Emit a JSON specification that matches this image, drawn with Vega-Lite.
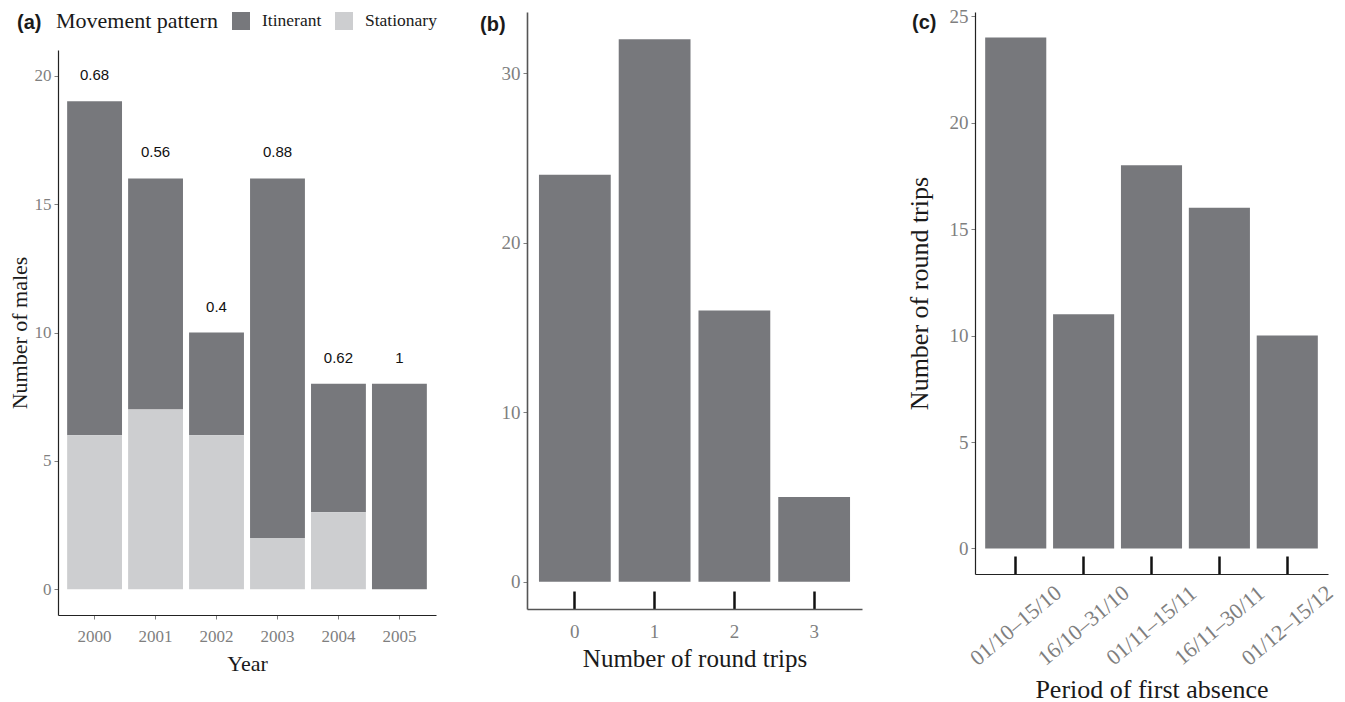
{
  "$schema": "https://vega.github.io/schema/vega-lite/v6.json",
  "background": "white",
  "padding": {"left": 8, "top": 7, "right": 0, "bottom": 0},
  "columns": 3,
  "align": "none",
  "spacing": 44,
  "config": {
    "view": {"stroke": null},
    "axis": {"grid": false, "domainColor": "#222", "domainWidth": 1.2, "labelFont": "Liberation Serif", "labelColor": "#7f7f7f", "titleFont": "Liberation Serif", "titleColor": "#1a1a1a", "titleFontWeight": "normal", "tickColor": "#7f7f7f", "tickSize": 4, "labelPadding": 3},
    "title": {"font": "Liberation Sans", "fontWeight": "bold", "fontSize": 20, "color": "#1a1a1a"}
  },
  "datasets": {
    "males": [
      {"year": "2000", "pattern": "Itinerant", "count": 13},
      {"year": "2000", "pattern": "Stationary", "count": 6},
      {"year": "2001", "pattern": "Itinerant", "count": 9},
      {"year": "2001", "pattern": "Stationary", "count": 7},
      {"year": "2002", "pattern": "Itinerant", "count": 4},
      {"year": "2002", "pattern": "Stationary", "count": 6},
      {"year": "2003", "pattern": "Itinerant", "count": 14},
      {"year": "2003", "pattern": "Stationary", "count": 2},
      {"year": "2004", "pattern": "Itinerant", "count": 5},
      {"year": "2004", "pattern": "Stationary", "count": 3},
      {"year": "2005", "pattern": "Itinerant", "count": 8},
      {"year": "2005", "pattern": "Stationary", "count": 0}
    ],
    "labels": [
      {"year": "2000", "total": 19, "prop": "0.68"},
      {"year": "2001", "total": 16, "prop": "0.56"},
      {"year": "2002", "total": 10, "prop": "0.4"},
      {"year": "2003", "total": 16, "prop": "0.88"},
      {"year": "2004", "total": 8, "prop": "0.62"},
      {"year": "2005", "total": 8, "prop": "1"}
    ],
    "trips": [
      {"n": "0", "count": 24},
      {"n": "1", "count": 32},
      {"n": "2", "count": 16},
      {"n": "3", "count": 5}
    ],
    "periods": [
      {"period": "01/10–15/10", "count": 24},
      {"period": "16/10–31/10", "count": 11},
      {"period": "01/11–15/11", "count": 18},
      {"period": "16/11–30/11", "count": 16},
      {"period": "01/12–15/12", "count": 10}
    ]
  },
  "concat": [
    {
      "width": 378,
      "height": 603,
      "title": {"text": "(a)", "anchor": "start", "frame": "bounds", "orient": "top", "baseline": "middle", "offset": 0, "dx": 9, "dy": 31},
      "layer": [
        {
          "data": {"name": "males"},
          "mark": {"type": "bar"},
          "encoding": {
            "x": {"field": "year", "type": "ordinal", "scale": {"paddingInner": 0.1, "paddingOuter": 0.15}, "axis": {"title": "Year", "labelAngle": 0, "labelFontSize": 17, "titleFontSize": 22, "labelPadding": 9, "titlePadding": 9}},
            "y": {"field": "count", "type": "quantitative", "stack": "zero", "scale": {"domain": [-1, 21], "range": [603, 38], "nice": false, "zero": false}, "axis": {"title": "Number of males", "values": [0, 5, 10, 15, 20], "labelFontSize": 17, "titleFontSize": 22, "titlePadding": 3}},
            "color": {
              "field": "pattern", "type": "nominal",
              "scale": {"domain": ["Itinerant", "Stationary"], "range": ["#77787c", "#cdced0"]},
              "legend": {"orient": "none", "legendX": -2, "legendY": 0, "direction": "horizontal", "title": "Movement pattern", "titleOrient": "left", "titleFont": "Liberation Serif", "titleFontSize": 22, "titleFontWeight": "normal", "titleColor": "#1a1a1a", "titlePadding": 14, "labelFont": "Liberation Serif", "labelFontSize": 17.5, "labelColor": "#1a1a1a", "labelOffset": 12, "symbolType": "square", "symbolSize": 324, "symbolStrokeWidth": 0, "symbolOpacity": 1, "columnPadding": 13}
            },
            "order": {"field": "pattern", "sort": "descending"}
          }
        },
        {
          "data": {"name": "labels"},
          "mark": {"type": "text", "font": "Liberation Sans", "fontSize": 15, "color": "#111", "dy": -26, "baseline": "middle"},
          "encoding": {
            "x": {"field": "year", "type": "ordinal"},
            "y": {"field": "total", "type": "quantitative", "axis": {"title": "Number of males", "values": [0, 5, 10, 15, 20], "labelFontSize": 17, "titleFontSize": 22, "titlePadding": 3}},
            "text": {"field": "prop"}
          }
        }
      ]
    },
    {
      "width": 335,
      "height": 597,
      "data": {"name": "trips"},
      "title": {"text": "(b)", "anchor": "start", "frame": "group", "orient": "top", "baseline": "middle", "offset": 0, "dx": -47, "dy": 33},
      "mark": {"type": "bar", "color": "#77787c"},
      "encoding": {
        "x": {"field": "n", "type": "ordinal", "scale": {"paddingInner": 0.1, "paddingOuter": 0.15}, "axis": {"title": "Number of round trips", "labelAngle": 0, "labelFontSize": 19, "titleFontSize": 25, "tickSize": -18, "tickWidth": 2.5, "tickColor": "#111", "labelPadding": 31, "titlePadding": 5, "domainColor": "#555", "domainWidth": 1.6}},
        "y": {"field": "count", "type": "quantitative", "scale": {"domain": [-1.6, 33.6], "nice": false, "zero": false}, "axis": {"title": null, "values": [0, 10, 20, 30], "labelFontSize": 19, "domainColor": "#555", "domainWidth": 1.6}}
      }
    },
    {
      "width": 353,
      "height": 562,
      "data": {"name": "periods"},
      "title": {"text": "(c)", "anchor": "start", "frame": "group", "orient": "top", "baseline": "middle", "offset": 0, "dx": -63, "dy": 36},
      "mark": {"type": "bar", "color": "#77787c"},
      "encoding": {
        "x": {"field": "period", "type": "ordinal", "sort": null, "scale": {"paddingInner": 0.1, "paddingOuter": 0.15}, "axis": {"title": "Period of first absence", "labelAngle": -40, "labelAlign": "center", "labelBaseline": "middle", "labelFontSize": 22, "titleFontSize": 26, "tickSize": -18, "tickWidth": 2.5, "tickColor": "#111", "labelPadding": 69, "titlePadding": 7}},
        "y": {"field": "count", "type": "quantitative", "scale": {"domain": [-1.2, 25.2], "nice": false, "zero": false}, "axis": {"title": "Number of round trips", "values": [0, 5, 10, 15, 20, 25], "labelFontSize": 19, "titleFontSize": 26, "titlePadding": 17}}
      }
    }
  ]
}
